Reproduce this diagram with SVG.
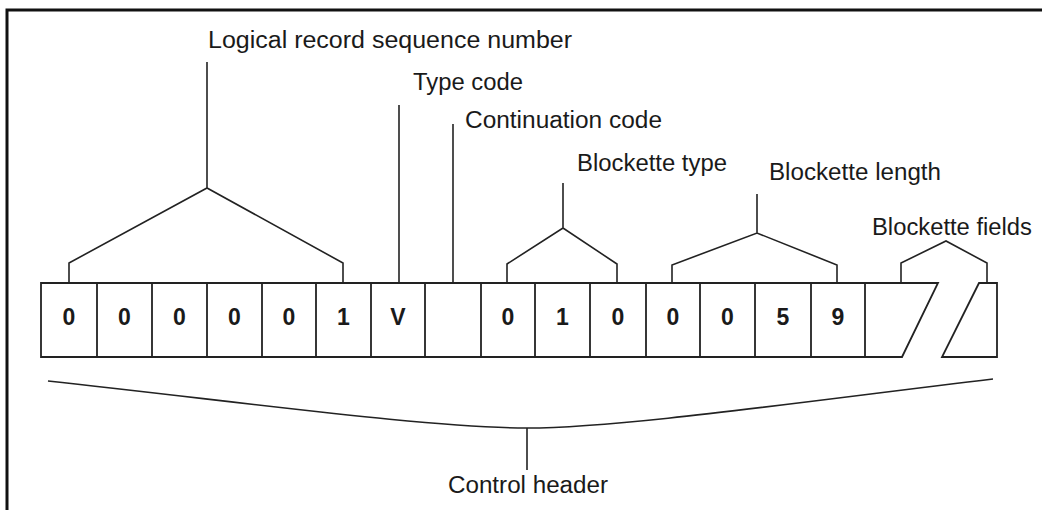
<svg xmlns="http://www.w3.org/2000/svg" width="1042" height="510" viewBox="0 0 1042 510">
<style>
.frame{fill:none;stroke:#111;stroke-width:3}
.ln{fill:none;stroke:#222;stroke-width:1.6;stroke-linejoin:miter}
.cell{fill:#fff;stroke:#222;stroke-width:1.8}
.lbl{font-family:"Liberation Sans",Arial,sans-serif;font-size:23px;fill:#1a1a1a}
.dig{font-family:"Liberation Sans",Arial,sans-serif;font-size:23px;font-weight:bold;fill:#1a1a1a;text-anchor:middle}
</style>
<rect width="1042" height="510" fill="#fff"/>
<path class="frame" d="M7,510 V10 H1042"/>

<g id="record">
<path class="cell" d="M41,283 H938 L902,357 H41 Z"/>
<path class="cell" d="M97,283V357M152,283V357M207,283V357M262,283V357M316,283V357M371,283V357M425,283V357M481,283V357M535,283V357M590,283V357M646,283V357M700,283V357M755,283V357M811,283V357M865,283V357"/>
<path class="cell" d="M979,283 H997 V357 H942 Z"/>
<text class="dig" x="69" y="325">0</text>
<text class="dig" x="124.5" y="325">0</text>
<text class="dig" x="179.5" y="325">0</text>
<text class="dig" x="234.5" y="325">0</text>
<text class="dig" x="289" y="325">0</text>
<text class="dig" x="343.5" y="325">1</text>
<text class="dig" x="398" y="325">V</text>
<text class="dig" x="508" y="325">0</text>
<text class="dig" x="562.5" y="325">1</text>
<text class="dig" x="618" y="325">0</text>
<text class="dig" x="673" y="325">0</text>
<text class="dig" x="727.5" y="325">0</text>
<text class="dig" x="783" y="325">5</text>
<text class="dig" x="838" y="325">9</text>
</g>

<g id="lbl-logical"><text class="lbl" x="208" y="48" textLength="364" lengthAdjust="spacingAndGlyphs">Logical record sequence number</text></g>
<g id="lbl-type"><text class="lbl" x="413" y="90" textLength="110" lengthAdjust="spacingAndGlyphs">Type code</text></g>
<g id="lbl-cont"><text class="lbl" x="465" y="128" textLength="197" lengthAdjust="spacingAndGlyphs">Continuation code</text></g>
<g id="lbl-btype"><text class="lbl" x="577" y="171" textLength="150" lengthAdjust="spacingAndGlyphs">Blockette type</text></g>
<g id="lbl-blen"><text class="lbl" x="769" y="180" textLength="172" lengthAdjust="spacingAndGlyphs">Blockette length</text></g>
<g id="lbl-bfields"><text class="lbl" x="872" y="235" textLength="160" lengthAdjust="spacingAndGlyphs">Blockette fields</text></g>
<g id="lbl-control"><text class="lbl" x="448" y="493" textLength="160" lengthAdjust="spacingAndGlyphs">Control header</text></g>

<g id="connectors">
<path class="ln" d="M207,62 V188 M69,283 V263 L207,188 L343,263 V283"/>
<path class="ln" d="M399,105 V283"/>
<path class="ln" d="M453,124 V283"/>
<path class="ln" d="M563,183 V228 M507,283 V264 L563,228 L617,264 V283"/>
<path class="ln" d="M757,194 V233 M672,283 V265 L757,233 L837,265 V283"/>
<path class="ln" d="M901,283 V263 L946,241 L987,263 V283"/>
<path class="ln" d="M48,381 C250,403 430,428 527,428 C620,428 800,402 993,379 M527,428 V470"/>
</g>
</svg>
